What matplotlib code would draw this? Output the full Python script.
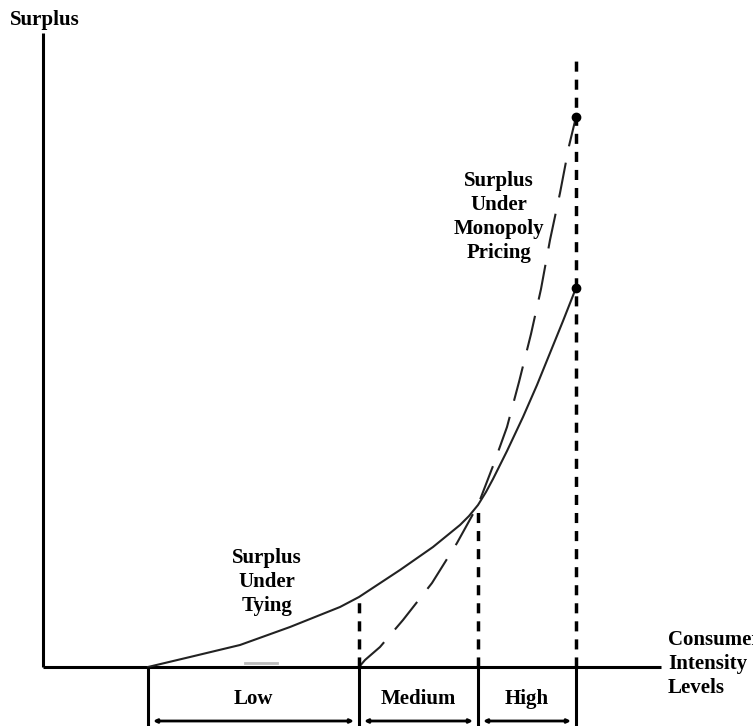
import numpy as np
from matplotlib import pyplot as plt

# consumer intensity (x) and surplus (y)
tying_x = [1.05, 1.47, 1.97, 2.47, 2.97, 3.16, 3.57, 3.90, 4.17, 4.26, 4.35, 4.43, 4.50, 4.64, 4.80, 4.94, 5.07, 5.20, 5.33]
tying_y = [0.00, 0.10, 0.22, 0.40, 0.60, 0.70, 0.97, 1.20, 1.42, 1.51, 1.62, 1.75, 1.88, 2.16, 2.50, 2.82, 3.14, 3.46, 3.79]

monopoly_x = [3.16, 3.22, 3.37, 3.60, 3.89, 4.14, 4.35, 4.50, 4.64, 4.76, 4.88, 4.98, 5.07, 5.17, 5.26, 5.33]
monopoly_y = [0.00, 0.07, 0.20, 0.47, 0.84, 1.24, 1.62, 2.01, 2.40, 2.85, 3.33, 3.78, 4.27, 4.74, 5.21, 5.50]

# boundaries of the intensity levels
level_edges = [1.05, 3.16, 4.35, 5.33]
level_names = ['Low', 'Medium', 'High']
max_line_top = 6.09

FONT = dict(family=['Liberation Serif', 'DejaVu Serif'], fontweight='bold', fontsize=15)


def main():
    fig = plt.figure(figsize=(7.53, 7.26), dpi=100)
    ax = fig.add_axes([0, 0, 1, 1])
    ax.set_xlim(-0.43, 7.10)
    ax.set_ylim(-0.59, 6.67)
    ax.axis('off')

    # axes
    ax.plot([0, 0], [0, 6.34], color='black', lw=2.2, solid_capstyle='butt')
    ax.plot([0, 6.18], [0, 0], color='black', lw=2.2, solid_capstyle='butt')

    # curves
    ax.plot(tying_x, tying_y, color='#222222', lw=1.5)
    ax.plot(monopoly_x, monopoly_y, color='#222222', lw=1.5, linestyle=(0, (17, 8)))
    ax.plot(tying_x[-1], tying_y[-1], 'o', color='black', ms=6)
    ax.plot(monopoly_x[-1], monopoly_y[-1], 'o', color='black', ms=6)

    # dashed verticals up to the curves
    tops = [np.interp(level_edges[1], tying_x, tying_y),
            np.interp(level_edges[2], tying_x, tying_y),
            max_line_top]
    for x, top in zip(level_edges[1:], tops):
        ax.plot([x, x], [0, top], color='black', lw=2.5, linestyle=(0, (2.9, 2.3)))

    # level boxes below axis
    for x in level_edges:
        ax.plot([x, x], [0, -0.62], color='black', lw=2.2, solid_capstyle='butt')
    for i, name in enumerate(level_names):
        lo, hi = level_edges[i], level_edges[i + 1]
        ax.text((lo + hi) / 2, -0.32, name, ha='center', va='center', **FONT)
        ax.annotate('', xy=(lo + 0.05, -0.54), xytext=(hi - 0.05, -0.54),
                    arrowprops=dict(arrowstyle='<|-|>', color='black', lw=2,
                                    mutation_scale=5, shrinkA=0, shrinkB=0))

    # small grey mark near the axis
    ax.plot([2.02, 2.34], [0.04, 0.04], color='#bbbbbb', lw=2)

    # labels
    ax.text(-0.33, 6.47, 'Surplus', ha='left', va='center', **FONT)
    ax.text(6.25, 0.03, 'Consumer\nIntensity\nLevels', ha='left', va='center',
            linespacing=1.25, **FONT)
    ax.text(4.56, 4.50, 'Surplus\nUnder\nMonopoly\nPricing', ha='center', va='center',
            linespacing=1.25, **FONT)
    ax.text(2.24, 0.85, 'Surplus\nUnder\nTying', ha='center', va='center',
            linespacing=1.25, **FONT)

    fig.savefig('out.png', dpi=100)
    plt.close('all')


if __name__ == '__main__':
    main()
